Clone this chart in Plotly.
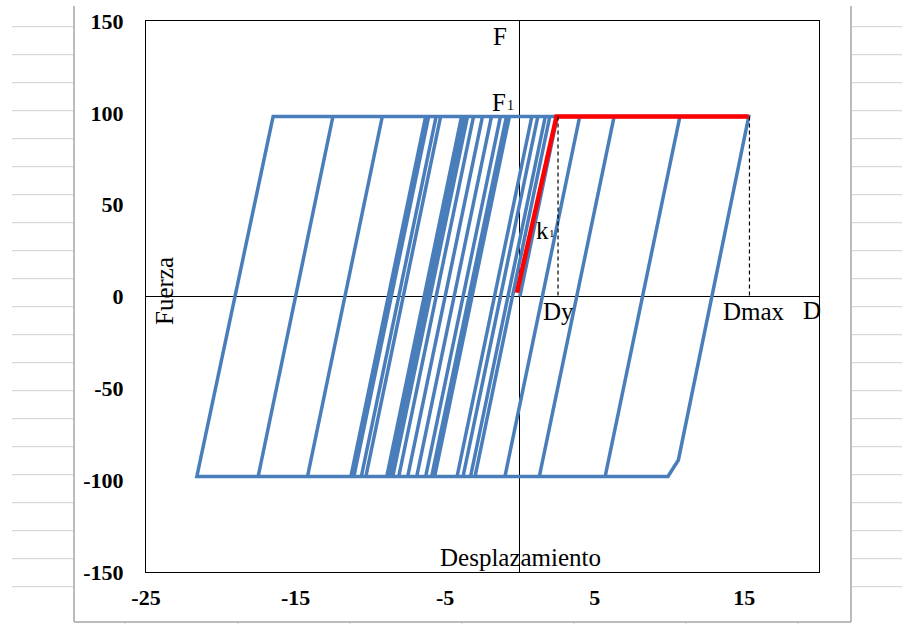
import plotly.graph_objects as go

# ---------------- data ----------------
# hysteresis path vertices: displacement and force
disp = [0, 2.5, 6.3, 1.3, -4.2, 0.8, 4.0, -1.0, -5.7, -0.7, 2.0, -3.0, -7.5, -2.5,
        1.7, -3.3, -8.5, -3.5, 1.2, -3.8, -8.9, -3.9, -0.9, -5.9, -10.6, -5.6,
        -1.3, -6.3, -14.2, -9.2, -1.9, -6.9, -11.3, -6.3, -3.1, -8.1, -17.5, -12.5,
        -3.7, -8.7, -21.6, -16.5, -5.3, -10.3, -11.1, -6.1, 10.7, 5.7, 1.3, 6.3,
        15.3, 10.6, 9.9, 5.5]
force = [0, 98, 98, -98, -98, 98, 98, -98, -98, 98, 98, -98, -98, 98,
         98, -98, -98, 98, 98, -98, -98, 98, 98, -98, -98, 98,
         98, -98, -98, 98, 98, -98, -98, 98, 98, -98, -98, 98,
         98, -98, -98, 98, 98, -98, -98, 98, 98, -98, -98, 98,
         98, -89, -98, -98]

# bilinear model (red)
model_disp = [-0.2, 2.45, 15.3]
model_force = [2, 98, 98]

# dashed guides at Dy and Dmax
dy_disp = [2.55, 2.55]
dmax_disp = [15.35, 15.35]
guide_force = [98, 0]

x_ticks = [-25, -15, -5, 5, 15]
y_ticks = [-150, -100, -50, 0, 50, 100, 150]
x_range = [-25, 20]
y_range = [-150, 150]

# ---------------- layout helpers ----------------
W, H = 902, 624
L, R, T, B = 146, 819, 21, 572


def px(x):
    return (x - L) / (R - L)


def py(y):
    return (B - y) / (B - T)


SERIF = "Liberation Serif"
BLUE = "#4a7ebb"

fig = go.Figure()
fig.add_trace(go.Scatter(x=disp, y=force, mode="lines",
                         line=dict(color=BLUE, width=3.5), hoverinfo="skip"))
fig.add_trace(go.Scatter(x=model_disp, y=model_force, mode="lines",
                         line=dict(color="#ff0000", width=4.5), hoverinfo="skip"))
for gx in (dy_disp, dmax_disp):
    fig.add_trace(go.Scatter(x=gx, y=guide_force, mode="lines",
                             line=dict(color="black", width=1.2, dash="4px,3px"),
                             hoverinfo="skip"))

shapes = []
# spreadsheet gridlines left and right of the chart
y = 26.7
while y < 600:
    shapes.append(dict(type="line", xref="paper", yref="paper",
                       x0=px(12), x1=px(74), y0=py(y), y1=py(y),
                       line=dict(color="#d9d9d9", width=1.2)))
    shapes.append(dict(type="line", xref="paper", yref="paper",
                       x0=px(852), x1=px(902), y0=py(y), y1=py(y),
                       line=dict(color="#d9d9d9", width=1.2)))
    y += 28
for cx in (125, 238, 350, 462, 574, 686, 798):
    shapes.append(dict(type="line", xref="paper", yref="paper",
                       x0=px(cx), x1=px(cx), y0=py(622), y1=py(626),
                       line=dict(color="#d9d9d9", width=1)))
# chart frame (grey)
for x0, y0, x1, y1 in ((74, 6, 74, 622), (851, 6, 851, 622), (74, 622, 851, 622)):
    shapes.append(dict(type="line", xref="paper", yref="paper",
                       x0=px(x0), x1=px(x1), y0=py(y0), y1=py(y1),
                       line=dict(color="#a6a6a6", width=1.5)))

annots = []


def note(text, x, y, size=25, angle=0):
    annots.append(dict(text=text, xref="paper", yref="paper", x=px(x), y=py(y),
                       xanchor="center", yanchor="middle", showarrow=False,
                       textangle=angle,
                       font=dict(family=SERIF, size=size, color="black")))


note("F", 500, 36)
note("F", 499, 102)
note("1", 510, 105, size=14)
note("k", 542, 230)
note("1", 552, 233, size=11)
note("Dy", 558, 311)
note("Dmax", 754, 311)
note("D", 812, 310)
note("Fuerza", 164, 291, angle=-90)
note("Desplazamiento", 520, 557)

axis_common = dict(showgrid=False, zeroline=True, zerolinecolor="black",
                   zerolinewidth=1, showline=True, linecolor="black", linewidth=1,
                   mirror=True, ticks="", automargin=False,
                   tickfont=dict(family=SERIF, size=22, color="black", weight="bold"))

fig.update_layout(
    width=W, height=H, autosize=False,
    margin=dict(l=L, r=W - R, t=T, b=H - B, pad=0, autoexpand=False),
    paper_bgcolor="white", plot_bgcolor="white",
    showlegend=False,
    xaxis=dict(range=x_range, tickmode="array", tickvals=x_ticks,
               ticktext=[str(v) for v in x_ticks], ticklabelstandoff=6,
               **axis_common),
    yaxis=dict(range=y_range, tickmode="array", tickvals=y_ticks,
               ticktext=[str(v) for v in y_ticks], ticklabelstandoff=17,
               **axis_common),
    shapes=shapes, annotations=annots,
)

fig.write_html("out.html", config={"displayModeBar": False},
               post_script="document.body.style.margin='0';")
